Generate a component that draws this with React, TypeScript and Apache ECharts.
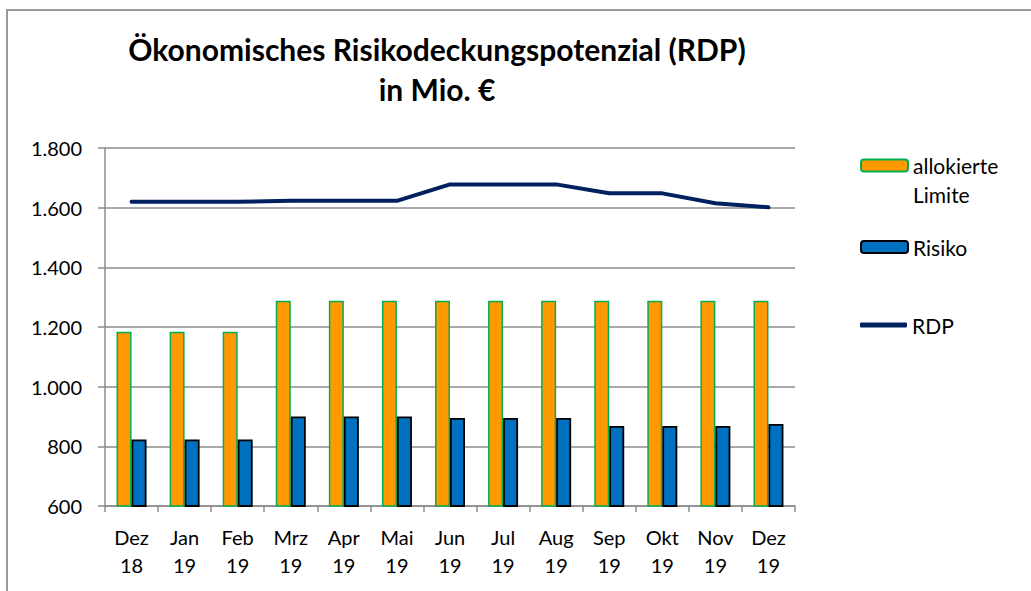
import React, { useEffect, useRef } from "react";
import * as echarts from "echarts";

const categories = ["Dez\n18", "Jan\n19", "Feb\n19", "Mrz\n19", "Apr\n19", "Mai\n19", "Jun\n19", "Jul\n19", "Aug\n19", "Sep\n19", "Okt\n19", "Nov\n19", "Dez\n19"];
const limite = [1184, 1184, 1184, 1288, 1288, 1288, 1288, 1288, 1288, 1288, 1288, 1288, 1288];
const risiko = [823, 823, 823, 900, 900, 900, 895, 895, 895, 868, 868, 868, 875];
const rdp = [1620, 1620, 1620, 1623, 1623, 1623, 1678, 1678, 1678, 1648, 1648, 1615, 1601];
const yTicks = { min: 600, max: 1800, interval: 200 };

const FONT = "Lato, 'Noto Sans', sans-serif";

export default function App() {
  const ref = useRef<HTMLDivElement>(null);
  useEffect(() => {
    if (!ref.current) return;
    const chart = echarts.init(ref.current, undefined, { renderer: "svg" });
    const fmt = (v: number) => String(v).replace(/\B(?=(\d{3})+(?!\d))/g, ".");
    chart.setOption({
      animation: false,
      backgroundColor: "#ffffff",
      textStyle: { fontFamily: FONT },
      title: {
        text: "Ökonomisches Risikodeckungspotenzial (RDP)\nin Mio. €",
        left: 432,
        top: 24,
        textAlign: "center",
        textStyle: { fontFamily: FONT, fontWeight: "bold", fontSize: 30, lineHeight: 40, color: "#000" },
      },
      graphic: [
        {
          type: "rect",
          shape: { x: 7, y: 10, width: 1100, height: 700 },
          style: { fill: "none", stroke: "#9a9a9a", lineWidth: 2 },
          silent: true,
        },
      ],
      legend: [
        {
          data: ["allokierte Limite"],
          left: 860,
          top: 122,
          padding: 0,
          orient: "vertical",
          itemWidth: 47,
          itemHeight: 12,
          formatter: () => " \nallokierte\nLimite",
          textStyle: { fontFamily: FONT, fontSize: 21, lineHeight: 29, color: "#000" },
        },
        {
          data: ["Risiko"],
          left: 860,
          top: 234,
          padding: 0,
          itemWidth: 47,
          itemHeight: 12,
          itemStyle: { borderWidth: 2 },
          textStyle: { fontFamily: FONT, fontSize: 21, lineHeight: 26, color: "#000" },
        },
        {
          data: [{ name: "RDP", icon: "roundRect" }],
          left: 860,
          top: 312,
          padding: 0,
          itemWidth: 47,
          itemHeight: 5,
          itemStyle: { color: "#002060", borderWidth: 0 },
          textStyle: { fontFamily: FONT, fontSize: 21, lineHeight: 26, color: "#000" },
        },
      ],
      grid: { left: 105, right: 236, top: 148, bottom: 85 },
      xAxis: {
        type: "category",
        data: categories,
        axisLine: { lineStyle: { color: "#8c8c8c", width: 1.5 } },
        axisTick: { show: true, length: 6, lineStyle: { color: "#8c8c8c", width: 1.5 } },
        axisLabel: { fontFamily: FONT, fontSize: 20, lineHeight: 28, color: "#000", margin: 17, interval: 0 },
      },
      yAxis: {
        type: "value",
        min: yTicks.min,
        max: yTicks.max,
        interval: yTicks.interval,
        axisLine: { show: true, lineStyle: { color: "#8c8c8c", width: 1.5 } },
        axisTick: { show: true, length: 7, lineStyle: { color: "#8c8c8c", width: 1.5 } },
        axisLabel: { fontFamily: FONT, fontSize: 20, color: "#000", margin: 23, formatter: fmt },
        splitLine: { lineStyle: { color: "#8c8c8c", width: 1.5 } },
      },
      series: [
        {
          name: "allokierte Limite",
          type: "bar",
          data: limite,
          barWidth: 15,
          barGap: "0%",
          itemStyle: { color: "#FF9900", borderColor: "#00B050", borderWidth: 1.5 },
        },
        {
          name: "Risiko",
          type: "bar",
          data: risiko,
          barWidth: 15,
          barGap: "0%",
          itemStyle: { color: "#0070C0", borderColor: "#000000", borderWidth: 1.8 },
        },
        {
          name: "RDP",
          type: "line",
          data: rdp,
          symbol: "none",
          lineStyle: { color: "#002060", width: 4, cap: "round", join: "round" },
          itemStyle: { color: "#002060" },
        },
      ],
    });
    return () => chart.dispose();
  }, []);
  return <div ref={ref} style={{ position: "fixed", left: 0, top: 0, width: 1031, height: 591 }} />;
}
